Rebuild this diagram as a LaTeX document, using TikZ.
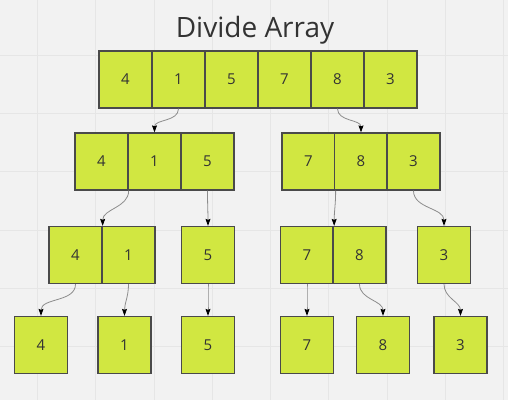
\documentclass[tikz,border=0pt]{standalone}
\usepackage{fontspec}
\setmainfont{Open Sans}
\usepackage{tikz}
\usetikzlibrary{arrows.meta}
\definecolor{cCanvas}{HTML}{F2F2F2}
\definecolor{cGrid}  {HTML}{E6E6E6}
\definecolor{cLime}  {HTML}{D1E741}
\definecolor{cEdge}  {HTML}{4A4A4A}
\definecolor{cWire}  {HTML}{8C8C8C}
\definecolor{cInk}   {HTML}{333333}
\tikzset{
  cell/.style={draw=cEdge, fill=cLime, line width=1.3pt, minimum width=53pt,
    minimum height=57pt, inner sep=0pt, text=cInk,
    font=\fontsize{15}{18}\selectfont},
  link/.style={draw=cWire, line width=0.8pt, out=-90, in=90,
    -{Stealth[length=7pt, width=5pt, inset=1pt, color=black]}},
}
\begin{document}
\begin{tikzpicture}[x=1pt, y=-1pt]
  \useasboundingbox (0,0) rectangle (508,400);
  \fill[cCanvas] (0,0) rectangle (508,400);
  % faint canvas grid
  \foreach \k in {0,...,8}{
    \draw[cGrid, line width=0.8pt] ({37.3+58.3*\k}, 0) -- ({37.3+58.3*\k}, 400);
  }
  \foreach \k in {0,...,6}{
    \draw[cGrid, line width=0.8pt] (0, {55+58.3*\k}) -- (508, {55+58.3*\k});
  }
  \node[text=cInk, font=\fontsize{28}{33}\selectfont] (title) at (255, 30) {Divide Array};
  % rows of the split
  \foreach \v [count=\i] in {4,1,5,7,8,3}
    \node[cell] (top\i) at ({125.5+53*(\i-1)}, 79.5) {\v};
  \foreach \v/\x [count=\i] in {4/101.5, 1/154.5, 5/207.5, 7/308.5, 8/361, 3/413.5}
    \node[cell] (mid\i) at (\x, 161.5) {\v};
  \foreach \v/\x [count=\i] in {4/75.5, 1/128.5, 5/208, 7/307, 8/359.5, 3/444}
    \node[cell] (sub\i) at (\x, 255) {\v};
  \foreach \v/\x [count=\i] in {4/41, 1/124.5, 5/208, 7/307, 8/383, 3/460.5}
    \node[cell] (leaf\i) at (\x, 345) {\v};
  % connectors
  \draw[link] (top2.south) to (mid2.north);
  \draw[link] (top5.south) to (mid5.north);
  \draw[link] (mid1.south east) to (sub1.north east);
  \draw[link] (mid3.south) to (sub3.north);
  \draw[link] (mid4.south east) to (sub4.north east);
  \draw[link] (mid6.south) to (sub6.north);
  \foreach \i in {1,...,6}
    \draw[link] (sub\i.south) to (leaf\i.north);
\end{tikzpicture}
\end{document}
